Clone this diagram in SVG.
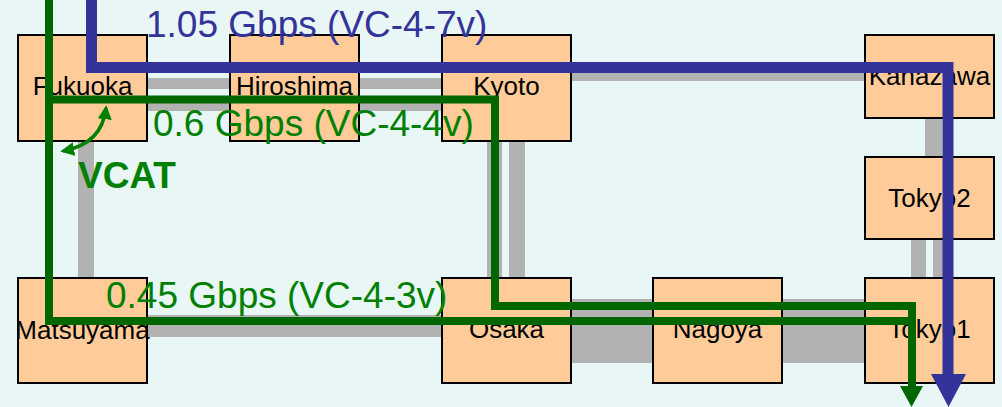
<svg xmlns="http://www.w3.org/2000/svg" width="1002" height="407" viewBox="0 0 1002 407">
  <style>
    .node rect { fill: #FFCC99; stroke: #000; stroke-width: 2; }
    .node text { font-family: "Liberation Sans", Arial, sans-serif; font-size: 26px; fill: #000; text-anchor: middle; }
    .link { fill: #B2B2B2; }
    .green { fill: none; stroke: #006600; stroke-width: 8; stroke-linejoin: miter; }
    .blue { fill: none; stroke: #333399; stroke-width: 11; stroke-linejoin: miter; }
    .lbl { font-family: "Liberation Sans", Arial, sans-serif; font-size: 37px; }
  </style>
  <defs>
    <marker id="vh" viewBox="0 0 10 10" refX="8" refY="5" markerWidth="4" markerHeight="4" orient="auto-start-reverse" markerUnits="strokeWidth">
      <path d="M0,0 L10,5 L0,10 Z" fill="#008000"/>
    </marker>
  </defs>
  <rect width="1002" height="407" fill="#E8F6F6"/>

  <g id="links">
    <rect class="link" x="147" y="78" width="83" height="11"/>
    <rect class="link" x="147" y="103" width="83" height="8"/>
    <rect class="link" x="359" y="78" width="83" height="11"/>
    <rect class="link" x="359" y="103" width="83" height="8"/>
    <rect class="link" x="571" y="66" width="294" height="15"/>
    <rect class="link" x="78" y="141" width="16" height="137"/>
    <rect class="link" x="487" y="141" width="15" height="137"/>
    <rect class="link" x="509" y="141" width="16" height="137"/>
    <rect class="link" x="925" y="118" width="17" height="39"/>
    <rect class="link" x="911" y="239" width="15" height="39"/>
    <rect class="link" x="933" y="239" width="15" height="39"/>
    <rect class="link" x="147" y="315" width="295" height="22"/>
    <rect class="link" x="571" y="299" width="82" height="64"/>
    <rect class="link" x="782" y="299" width="83" height="64"/>
  </g>

  <g id="fukuoka" class="node"><rect x="18" y="35" width="129" height="106"/><text x="82.5" y="95">Fukuoka</text></g>
  <g id="hiroshima" class="node"><rect x="230" y="35" width="129" height="106"/><text x="294.5" y="95">Hiroshima</text></g>
  <g id="kyoto" class="node"><rect x="442" y="35" width="129" height="106"/><text x="506.5" y="95">Kyoto</text></g>
  <g id="kanazawa" class="node"><rect x="865" y="35" width="129" height="83"/><text x="929.5" y="85">Kanazawa</text></g>
  <g id="tokyo2" class="node"><rect x="865" y="157" width="129" height="82"/><text x="929.5" y="207">Tokyo2</text></g>
  <g id="matsuyama" class="node"><rect x="18" y="278" width="129" height="105"/><text x="82.5" y="339">Matsuyama</text></g>
  <g id="osaka" class="node"><rect x="442" y="278" width="129" height="105"/><text x="506.5" y="338">Osaka</text></g>
  <g id="nagoya" class="node"><rect x="653" y="278" width="129" height="105"/><text x="717.5" y="338">Nagoya</text></g>
  <g id="tokyo1" class="node"><rect x="865" y="278" width="129" height="105"/><text x="929.5" y="338">Tokyo1</text></g>

  <g id="connectors">
    <path class="blue" d="M91.5,0 V67.5 H948 V376"/>
    <polygon points="931,374 966,374 948.5,407" fill="#333399"/>
    <path class="green" d="M49,0 V321 H912"/>
    <path class="green" d="M49,99.5 H495 V306 H912 V388"/>
    <polygon points="900,386 923,386 911.5,407" fill="#006600"/>
    <path d="M106,108 Q102,144 63,151" fill="none" stroke="#008000" stroke-width="3.5" marker-start="url(#vh)" marker-end="url(#vh)"/>
  </g>

  <g id="labels">
    <text class="lbl" x="146" y="37" fill="#333399">1.05 Gbps (VC-4-7v)</text>
    <text class="lbl" x="153" y="136" fill="#008000">0.6 Gbps (VC-4-4v)</text>
    <text class="lbl" x="106" y="308" fill="#008000">0.45 Gbps (VC-4-3v)</text>
    <text class="lbl" x="78" y="188" fill="#008000" font-weight="bold" font-size="35">VCAT</text>
  </g>
</svg>
